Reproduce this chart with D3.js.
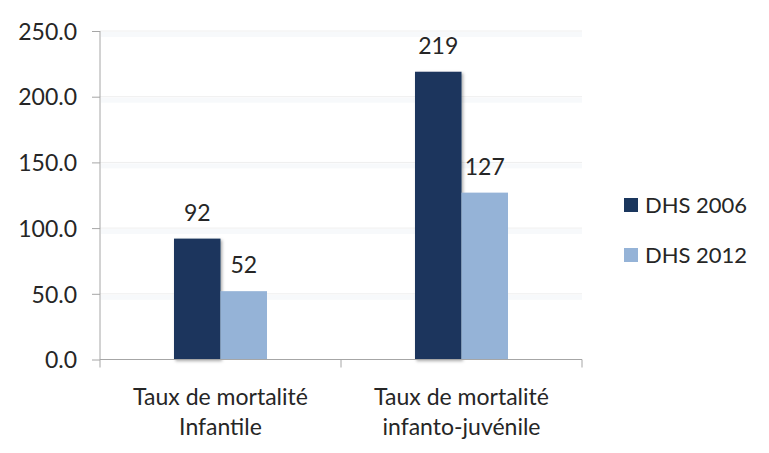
<!DOCTYPE html>
<html>
<head>
<meta charset="utf-8">
<script src="https://cdn.jsdelivr.net/npm/d3@7"></script>
<style>
  html, body { margin: 0; padding: 0; background: #ffffff; }
  svg { display: block; }
  text { font-family: Lato, "Open Sans", sans-serif; fill: #262626; }
</style>
</head>
<body>
<script>
// Mortality rates per 1000, two survey rounds
const categories = [["Taux de mortalité", "Infantile"], ["Taux de mortalité", "infanto-juvénile"]];
const seriesNames = ["DHS 2006", "DHS 2012"];
const dhs2006 = [92, 219];
const dhs2012 = [52, 127];
const yTicks = [0, 50, 100, 150, 200, 250];
const colors = ["#1a365d", "#95b3d7"];

const W = 769, H = 453;
const plotLeft = 100, plotRight = 582, plotTop = 31, plotBottom = 359.5;
const fontSize = 23;

const svg = d3.select("body").append("svg").attr("width", W).attr("height", H);

const defs = svg.append("defs");
const shadow = defs.append("filter").attr("id", "shadow")
  .attr("x", "-20%").attr("y", "-10%").attr("width", "150%").attr("height", "130%");
shadow.append("feDropShadow").attr("dx", 1.5).attr("dy", 1.5).attr("stdDeviation", 1.5)
  .attr("flood-color", "#000").attr("flood-opacity", 0.35);

const y = d3.scaleLinear().domain([0, 250]).range([plotBottom, plotTop]);
const x0 = d3.scaleBand().domain(d3.range(categories.length)).range([plotLeft, plotRight]).paddingInner(0).paddingOuter(0);
const x1 = d3.scaleBand().domain(seriesNames).range([0, 93]);
const groupOffset = (x0.bandwidth() - 93) / 2;

// gridlines with soft band underneath
const grid = svg.append("g");
yTicks.filter(d => d > 0).forEach(t => {
  grid.append("rect").attr("x", plotLeft + 1).attr("y", y(t) + 1).attr("width", plotRight - plotLeft - 1).attr("height", 5)
    .attr("fill", "#f7f9fb");
  grid.append("line").attr("x1", plotLeft).attr("x2", plotRight).attr("y1", y(t)).attr("y2", y(t))
    .attr("stroke", "#eeeeee").attr("stroke-width", 1);
});

// bars
const groups = svg.append("g").selectAll("g").data(categories).enter().append("g")
  .attr("transform", (d, i) => `translate(${x0(i) + groupOffset},0)`);

const seriesVals = [dhs2006, dhs2012];
seriesNames.forEach((name, s) => {
  groups.append("rect")
    .attr("x", x1(name))
    .attr("width", x1.bandwidth())
    .attr("y", (d, i) => y(seriesVals[s][i]))
    .attr("height", (d, i) => plotBottom - y(seriesVals[s][i]))
    .attr("fill", colors[s])
    .attr("filter", s === 0 ? "url(#shadow)" : null);
  groups.append("text")
    .attr("x", x1(name) + x1.bandwidth() / 2)
    .attr("y", (d, i) => y(seriesVals[s][i]) - 18)
    .attr("text-anchor", "middle")
    .attr("font-size", fontSize)
    .text((d, i) => seriesVals[s][i]);
});

// y axis
const yAxis = svg.append("g").attr("transform", `translate(${plotLeft},0)`)
  .call(d3.axisLeft(y).tickValues(yTicks).tickSize(8).tickPadding(15).tickFormat(d3.format(".1f")));
yAxis.select(".domain").attr("stroke", "#a6a6a6").attr("d", `M0,${plotTop}V${plotBottom}`);
yAxis.selectAll(".tick line").attr("stroke", "#a6a6a6");
yAxis.selectAll(".tick text").attr("font-size", fontSize).attr("fill", "#262626")
  .attr("font-family", "Lato, 'Open Sans', sans-serif").attr("dy", "0.36em");

// x axis
const xAxisG = svg.append("g");
xAxisG.append("line").attr("x1", plotLeft).attr("x2", plotRight).attr("y1", plotBottom).attr("y2", plotBottom).attr("stroke", "#a6a6a6");
[plotLeft, ...categories.map((d, i) => x0(i) + x0.bandwidth())].forEach(px => {
  xAxisG.append("line").attr("x1", px).attr("x2", px).attr("y1", plotBottom).attr("y2", plotBottom + 8).attr("stroke", "#a6a6a6");
});
categories.forEach((lines, i) => {
  const t = svg.append("text").attr("text-anchor", "middle").attr("font-size", fontSize);
  lines.forEach((ln, k) => {
    t.append("tspan").attr("x", x0(i) + x0.bandwidth() / 2).attr("y", 405 + k * 30).text(ln);
  });
});

// legend
const legend = svg.append("g");
seriesNames.forEach((name, s) => {
  const ly = 198 + s * 50;
  legend.append("rect").attr("x", 624).attr("y", ly).attr("width", 14).attr("height", 14).attr("fill", colors[s]);
  legend.append("text").attr("x", 645).attr("y", ly + 15).attr("font-size", 22).text(name);
});
</script>
</body>
</html>
